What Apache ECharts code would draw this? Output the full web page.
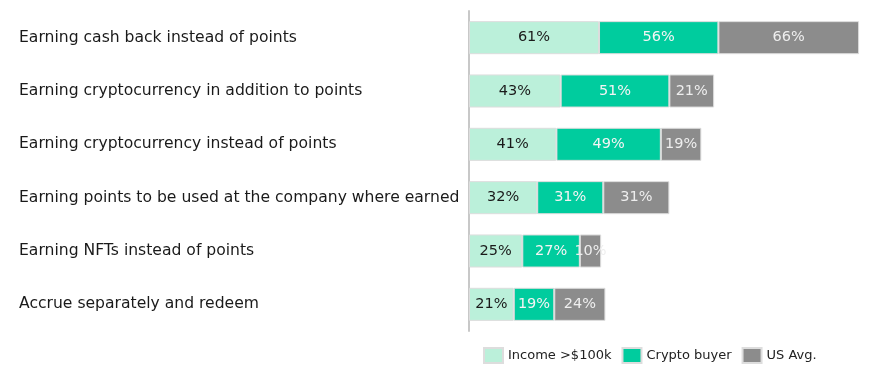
<!DOCTYPE html>
<html><head><meta charset="utf-8">
<script src="https://cdn.jsdelivr.net/npm/echarts@6/dist/echarts.min.js"></script>
<style>html,body{margin:0;padding:0;background:#fff}#c{width:880px;height:374px}</style>
</head><body><div id="c"></div>
<script>
const categories = [
  "Earning cash back instead of points",
  "Earning cryptocurrency in addition to points",
  "Earning cryptocurrency instead of points",
  "Earning points to be used at the company where earned",
  "Earning NFTs instead of points",
  "Accrue separately and redeem"
];
const seriesNames = ["Income >$100k", "Crypto buyer", "US Avg."];
const income = [61, 43, 41, 32, 25, 21];
const crypto = [56, 51, 49, 31, 27, 19];
const usAvg = [66, 21, 19, 31, 10, 24];

const colors = ["#bbf0da", "#00cc9e", "#8c8c8c"];
const labelColors = ["#1a1a1a", "#f4f4f4", "#eeeeee"];
const font = "'DejaVu Sans', sans-serif";

const chart = echarts.init(document.getElementById('c'), null, {renderer: 'canvas'});
const data = [income, crypto, usAvg];
chart.setOption({
  animation: false,
  textStyle: {fontFamily: font},
  grid: {left: 469, right: 6, top: 11, bottom: 43},
  xAxis: {type: 'value', min: 0, max: 190, show: false},
  yAxis: {
    type: 'category', data: categories, inverse: true,
    axisLine: {show: true, lineStyle: {color: '#c8c8c8', width: 2}},
    axisTick: {show: false},
    axisLabel: {align: 'left', margin: 450, fontSize: 15.6, color: '#1a1a1a', fontFamily: font}
  },
  legend: {
    left: 478, top: 342, itemWidth: 19, itemHeight: 15, itemGap: 10, icon: 'rect',
    textStyle: {fontSize: 13, color: '#222', fontFamily: font},
    data: seriesNames
  },
  series: seriesNames.map((n, i) => ({
    name: n, type: 'bar', stack: 'a', data: data[i],
    barCategoryGap: '38%',
    itemStyle: {color: colors[i], borderColor: '#dddddd', borderWidth: 1},
    label: {show: true, position: 'inside', formatter: '{c}%', fontSize: 14.5,
      color: labelColors[i], fontFamily: font}
  }))
});
</script></body></html>
